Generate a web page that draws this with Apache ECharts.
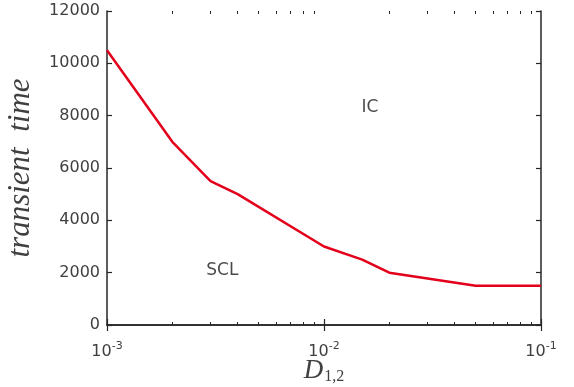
<!DOCTYPE html>
<html>
<head>
<meta charset="utf-8">
<script src="https://cdn.jsdelivr.net/npm/echarts@6/dist/echarts.min.js"></script>
<style>
  html, body { margin: 0; padding: 0; background: #fff; }
  #main { width: 574px; height: 387px; }
</style>
</head>
<body>
<div id="main"></div>
<script>
// coupling strength D_{1,2} vs transient time
const couplingD = [0.001, 0.002, 0.003, 0.004, 0.01, 0.015, 0.02, 0.05, 0.1]
const transientTime = [10500, 7000, 5500, 5000, 3000, 2500, 2000, 1500, 1500]

// region annotations
const regionNames = ['IC', 'SCL']
const regionX = [0.0163, 0.0034]
const regionY = [8300, 2070]

const yTicks = [0, 2000, 4000, 6000, 8000, 10000, 12000]
const xDecades = [0.001, 0.01, 0.1]

const minorTicks = []
for (let i = 0; i < xDecades.length - 1; i++) {
  for (let m = 2; m <= 9; m++) minorTicks.push(+(xDecades[i] * m).toPrecision(3))
}

const axisColor = '#262626'
const labelColor = '#404040'
const sans = 'DejaVu Sans'
const serif = 'Liberation Serif'

const myChart = echarts.init(document.getElementById('main'))

const logAxisBase = {
  type: 'log',
  logBase: 10,
  min: xDecades[0],
  max: xDecades[xDecades.length - 1],
  splitLine: { show: false },
  axisLine: { show: true, lineStyle: { color: axisColor, width: 1.5 } }
}

const option = {
  animation: false,
  grid: { left: 107, right: 33, top: 11, bottom: 62, containLabel: false, outerBoundsMode: 'none' },
  xAxis: [
    Object.assign({}, logAxisBase, {
      position: 'bottom',
      axisTick: { inside: true, length: 6, lineStyle: { color: axisColor, width: 1.2 }, customValues: xDecades },
      axisLabel: {
        margin: 16,
        customValues: xDecades,
        formatter: v => '{b|10}{s|' + Math.round(Math.log10(v)) + '}',
        rich: {
          b: { fontSize: 16, fontFamily: sans, color: labelColor },
          s: { fontSize: 11, fontFamily: sans, color: labelColor, padding: [0, 0, 10, 0] }
        }
      },
      name: '{d|D}{sub|1,2}',
      nameLocation: 'middle',
      nameGap: 32,
      nameMoveOverlap: false,
      nameTextStyle: {
        rich: {
          d: { fontSize: 27, fontFamily: serif, fontStyle: 'italic', color: labelColor },
          sub: { fontSize: 16, fontFamily: serif, color: labelColor, padding: [12, 0, 0, 1] }
        }
      }
    }),
    Object.assign({}, logAxisBase, {
      position: 'top',
      axisTick: { inside: true, length: 6, lineStyle: { color: axisColor, width: 1.2 }, customValues: xDecades },
      axisLabel: { show: false }
    }),
    Object.assign({}, logAxisBase, {
      position: 'bottom',
      axisLine: { show: false },
      axisTick: { inside: true, length: 3, lineStyle: { color: axisColor, width: 1 }, customValues: minorTicks },
      axisLabel: { show: false }
    }),
    Object.assign({}, logAxisBase, {
      position: 'top',
      axisLine: { show: false },
      axisTick: { inside: true, length: 3, lineStyle: { color: axisColor, width: 1 }, customValues: minorTicks },
      axisLabel: { show: false }
    })
  ],
  yAxis: [
    {
      type: 'value',
      position: 'left',
      min: yTicks[0],
      max: yTicks[yTicks.length - 1],
      interval: 2000,
      splitLine: { show: false },
      axisLine: { show: true, lineStyle: { color: axisColor, width: 1.5 } },
      axisTick: { inside: true, length: 5, lineStyle: { color: axisColor, width: 1.2 } },
      axisLabel: { margin: 7, fontSize: 16, fontFamily: sans, color: labelColor, formatter: v => String(v) },
      name: 'transient  time',
      nameLocation: 'middle',
      nameGap: 71,
      nameTextStyle: { fontSize: 31, fontFamily: serif, fontStyle: 'italic', color: labelColor }
    },
    {
      type: 'value',
      position: 'right',
      min: yTicks[0],
      max: yTicks[yTicks.length - 1],
      interval: 2000,
      splitLine: { show: false },
      axisLine: { show: true, lineStyle: { color: axisColor, width: 1.5 } },
      axisTick: { inside: true, length: 5, lineStyle: { color: axisColor, width: 1.2 } },
      axisLabel: { show: false }
    }
  ],
  series: [
    {
      type: 'line',
      xAxisIndex: 0,
      yAxisIndex: 0,
      data: couplingD.map((d, i) => [d, transientTime[i]]),
      symbol: 'none',
      lineStyle: { color: '#e3001b', width: 2.5 },
      z: 5
    },
    {
      type: 'scatter',
      xAxisIndex: 0,
      yAxisIndex: 0,
      symbolSize: 0,
      data: regionNames.map((n, i) => ({ name: n, value: [regionX[i], regionY[i]] })),
      label: {
        show: true,
        position: 'inside',
        formatter: p => p.name,
        fontSize: 17,
        fontFamily: sans,
        color: '#1a1a1a'
      },
      silent: true
    }
  ]
}

option && myChart.setOption(option)
</script>
</body>
</html>
